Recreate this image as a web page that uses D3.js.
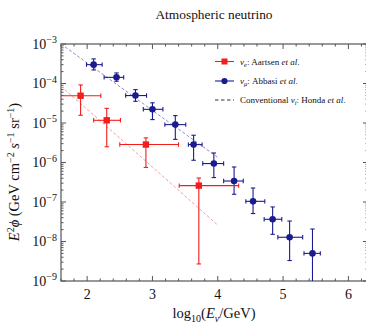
<!DOCTYPE html>
<html>
<head>
<meta charset="utf-8">
<script src="https://cdn.jsdelivr.net/npm/d3@7"></script>
<style>
  html, body { margin: 0; padding: 0; background: #fff; }
  svg { display: block; }
  text { font-family: "Liberation Serif", "DejaVu Serif", serif; fill: #111; }
</style>
</head>
<body>
<svg id="chart" width="366" height="326"></svg>
<script>
// ν_e flux points (Aartsen et al.): log10(E/GeV), bin edges, E²φ and its error range
const nueX    = [1.90, 2.30, 2.90, 3.71];
const nueXlo  = [1.50, 2.10, 2.50, 3.41];
const nueXhi  = [2.21, 2.51, 3.40, 4.32];
const nueY    = [4.9e-5, 1.17e-5, 2.85e-6, 2.6e-7];
const nueYlo  = [1.57e-5, 2.5e-6, 7.5e-7, 2.7e-9];
const nueYhi  = [9.2e-5, 2.35e-5, 4.2e-6, 4.05e-7];

// ν_μ flux points (Abbasi et al.)
const numuX   = [2.10, 2.45, 2.74, 3.00, 3.35, 3.63, 3.94, 4.25, 4.54, 4.84, 5.10, 5.45];
const numuXlo = [1.99, 2.26, 2.59, 2.86, 3.19, 3.55, 3.77, 4.09, 4.43, 4.71, 4.92, 5.32];
const numuXhi = [2.23, 2.56, 2.91, 3.16, 3.51, 3.76, 4.09, 4.39, 4.72, 4.98, 5.30, 5.57];
const numuY   = [3.0e-4, 1.43e-4, 4.95e-5, 2.22e-5, 9.1e-6, 2.84e-6, 9.4e-7, 3.4e-7, 1.04e-7, 3.65e-8, 1.28e-8, 5.0e-9];
const numuYlo = [2.2e-4, 1.14e-4, 3.54e-5, 1.22e-5, 3.86e-6, 1.14e-6, 4.15e-7, 1.57e-7, 5.1e-8, 1.52e-8, 3.3e-9, 5e-10];
const numuYhi = [4.2e-4, 1.85e-4, 7.0e-5, 3.24e-5, 1.54e-5, 4.9e-6, 1.74e-6, 7.7e-7, 2.26e-7, 7.5e-8, 3.3e-8, 2.07e-8];

// Conventional atmospheric flux (Honda et al.)
const hondaX    = [1.6, 2.4, 3.2, 4.0];
const hondaNumu = [1.0e-3, 1.1e-4, 1.2e-5, 1.35e-6];
const hondaNue  = [8.5e-5, 5.8e-6, 3.9e-7, 2.6e-8];

// Axis ticks
const xMajor = [2, 3, 4, 5, 6];
const yMajorExp = [-9, -8, -7, -6, -5, -4, -3];

const RED = "#f21d1d";
const BLUE = "#1b1b8f";

const svg = d3.select("#chart");
const L = 61, R = 368, T = 44, B = 281;

const x = d3.scaleLinear().domain([1.6, 6.3]).range([L, R]);
const y = d3.scaleLog().domain([1e-9, 1e-3]).range([B, T]);

// Title
svg.append("text").attr("x", 214).attr("y", 19).attr("text-anchor", "middle")
  .attr("font-size", 13.4).text("Atmospheric neutrino");

// Clip region for the plot
svg.append("clipPath").attr("id", "plotclip").append("rect")
  .attr("x", L).attr("y", T).attr("width", R - L).attr("height", B - T);

const frameColor = "#555";

// Frame
svg.append("rect").attr("x", L).attr("y", T).attr("width", R - L).attr("height", B - T)
  .attr("fill", "none").attr("stroke", frameColor).attr("stroke-width", 1.2);

// X ticks (inward, bottom and top)
const xMinor = d3.range(1.6, 6.31, 0.2).filter(v => Math.abs(v - Math.round(v)) > 1e-6);
const tickG = svg.append("g").attr("stroke", frameColor).attr("stroke-width", 1);
xMajor.forEach(v => {
  tickG.append("line").attr("x1", x(v)).attr("x2", x(v)).attr("y1", B).attr("y2", B - 5);
  tickG.append("line").attr("x1", x(v)).attr("x2", x(v)).attr("y1", T).attr("y2", T + 5);
});
xMinor.forEach(v => {
  tickG.append("line").attr("x1", x(v)).attr("x2", x(v)).attr("y1", B).attr("y2", B - 2.5);
  tickG.append("line").attr("x1", x(v)).attr("x2", x(v)).attr("y1", T).attr("y2", T + 2.5);
});
// Y ticks (inward, left and right)
yMajorExp.forEach(e => {
  const v = Math.pow(10, e);
  tickG.append("line").attr("x1", L).attr("x2", L + 5).attr("y1", y(v)).attr("y2", y(v));
  tickG.append("line").attr("x1", R).attr("x2", R - 5).attr("y1", y(v)).attr("y2", y(v));
  if (e < -3) {
    for (let m = 2; m <= 9; m++) {
      const mv = m * v;
      tickG.append("line").attr("x1", L).attr("x2", L + 2.5).attr("y1", y(mv)).attr("y2", y(mv));
      tickG.append("line").attr("x1", R).attr("x2", R - 2.5).attr("y1", y(mv)).attr("y2", y(mv));
    }
  }
});

// X tick labels
svg.append("g").selectAll("text").data(xMajor).join("text")
  .attr("x", d => x(d)).attr("y", 299).attr("text-anchor", "middle")
  .attr("font-size", 14).text(d => d);

// Y tick labels 10^n
const yl = svg.append("g").selectAll("text").data(yMajorExp).join("text")
  .attr("x", 57).attr("y", d => y(Math.pow(10, d)) + 4.5).attr("text-anchor", "end")
  .attr("font-size", 14);
yl.append("tspan").text("10");
yl.append("tspan").attr("dy", -5.5).attr("font-size", 10).text(d => "\u2212" + (-d));

// X axis label
const xl = svg.append("text").attr("x", 214).attr("y", 318).attr("text-anchor", "middle").attr("font-size", 14.5);
xl.append("tspan").text("log");
xl.append("tspan").attr("dy", 3.5).attr("font-size", 10).text("10");
xl.append("tspan").attr("dy", -3.5).text("(");
xl.append("tspan").attr("font-style", "italic").text("E");
xl.append("tspan").attr("dy", 3.5).attr("font-size", 10).attr("font-style", "italic").text("\u03bd");
xl.append("tspan").attr("dy", -3.5).text("/GeV)");

// Y axis label
const ylab = svg.append("text").attr("transform", "translate(19,172) rotate(-90)")
  .attr("text-anchor", "middle").attr("font-size", 14.5);
ylab.append("tspan").attr("font-style", "italic").text("E");
ylab.append("tspan").attr("dy", -5.5).attr("font-size", 10).text("2");
ylab.append("tspan").attr("dy", 5.5).attr("font-style", "italic").text("\u03d5");
ylab.append("tspan").text(" (GeV cm");
ylab.append("tspan").attr("dy", -5.5).attr("font-size", 10).text("\u22122");
ylab.append("tspan").attr("dy", 5.5).text(" ");
ylab.append("tspan").attr("font-style", "italic").text("s");
ylab.append("tspan").attr("dy", -5.5).attr("font-size", 10).text("\u22121");
ylab.append("tspan").attr("dy", 5.5).text(" sr");
ylab.append("tspan").attr("dy", -5.5).attr("font-size", 10).text("\u22121");
ylab.append("tspan").attr("dy", 5.5).text(")");

// Plot contents
const plot = svg.append("g").attr("clip-path", "url(#plotclip)");

const line = d3.line().x(d => x(d[0])).y(d => y(d[1]));
plot.append("path").datum(d3.zip(hondaX, hondaNumu)).attr("d", line)
  .attr("fill", "none").attr("stroke", "#8c8cd0").attr("stroke-width", 1).attr("stroke-dasharray", "3,2");
plot.append("path").datum(d3.zip(hondaX, hondaNue)).attr("d", line)
  .attr("fill", "none").attr("stroke", "#f4a0a0").attr("stroke-width", 1).attr("stroke-dasharray", "3,2");

function errorBars(g, xs, xlo, xhi, ys, ylo, yhi, color) {
  const cap = 2.2;
  xs.forEach((xv, i) => {
    const eg = g.append("g").attr("stroke", color).attr("stroke-width", 1.1);
    const cx = x(xv), cy = y(ys[i]);
    eg.append("line").attr("x1", x(xlo[i])).attr("x2", x(xhi[i])).attr("y1", cy).attr("y2", cy);
    eg.append("line").attr("x1", cx).attr("x2", cx).attr("y1", y(ylo[i])).attr("y2", y(yhi[i]));
    [xlo[i], xhi[i]].forEach(v => eg.append("line").attr("x1", x(v)).attr("x2", x(v))
      .attr("y1", cy - cap).attr("y2", cy + cap));
    [ylo[i], yhi[i]].forEach(v => eg.append("line").attr("y1", y(v)).attr("y2", y(v))
      .attr("x1", cx - cap).attr("x2", cx + cap));
  });
}

errorBars(plot, numuX, numuXlo, numuXhi, numuY, numuYlo, numuYhi, BLUE);
errorBars(plot, nueX, nueXlo, nueXhi, nueY, nueYlo, nueYhi, RED);

plot.append("g").selectAll("circle").data(d3.zip(numuX, numuY)).join("circle")
  .attr("cx", d => x(d[0])).attr("cy", d => y(d[1])).attr("r", 3.3).attr("fill", BLUE);
plot.append("g").selectAll("rect").data(d3.zip(nueX, nueY)).join("rect")
  .attr("x", d => x(d[0]) - 3.2).attr("y", d => y(d[1]) - 3.2)
  .attr("width", 6.4).attr("height", 6.4).attr("fill", RED);

// Legend
const leg = svg.append("g").attr("font-size", 9);
const legRows = [61.5, 81, 100];
leg.append("line").attr("x1", 215).attr("x2", 234).attr("y1", legRows[0]).attr("y2", legRows[0]).attr("stroke", RED).attr("stroke-width", 1.1);
leg.append("rect").attr("x", 221.5).attr("y", legRows[0] - 3).attr("width", 6).attr("height", 6).attr("fill", RED);
leg.append("line").attr("x1", 215).attr("x2", 234).attr("y1", legRows[1]).attr("y2", legRows[1]).attr("stroke", BLUE).attr("stroke-width", 1.1);
leg.append("circle").attr("cx", 224.5).attr("cy", legRows[1]).attr("r", 3.1).attr("fill", BLUE);
leg.append("line").attr("x1", 215).attr("x2", 234).attr("y1", legRows[2]).attr("y2", legRows[2]).attr("stroke", "#333").attr("stroke-width", 1).attr("stroke-dasharray", "3.5,2.5");

function legText(yy, sub, name) {
  const t = leg.append("text").attr("x", 240).attr("y", yy + 3);
  t.append("tspan").attr("font-style", "italic").text("\u03bd");
  t.append("tspan").attr("dy", 2).attr("font-size", 6.5).attr("font-style", "italic").text(sub);
  t.append("tspan").attr("dy", -2).text(": " + name + " ");
  t.append("tspan").attr("font-style", "italic").text("et al");
  t.append("tspan").text(".");
}
function legText2(yy) {
  const t = leg.append("text").attr("x", 240).attr("y", yy + 3);
  t.append("tspan").text("Conventional ");
  t.append("tspan").attr("font-style", "italic").text("\u03bd");
  t.append("tspan").attr("dy", 2).attr("font-size", 6.5).attr("font-style", "italic").text("i");
  t.append("tspan").attr("dy", -2).text(": Honda ");
  t.append("tspan").attr("font-style", "italic").text("et al");
  t.append("tspan").text(".");
}
legText(legRows[0], "e", "Aartsen");
legText(legRows[1], "\u03bc", "Abbasi");
legText2(legRows[2]);
</script>
</body>
</html>
